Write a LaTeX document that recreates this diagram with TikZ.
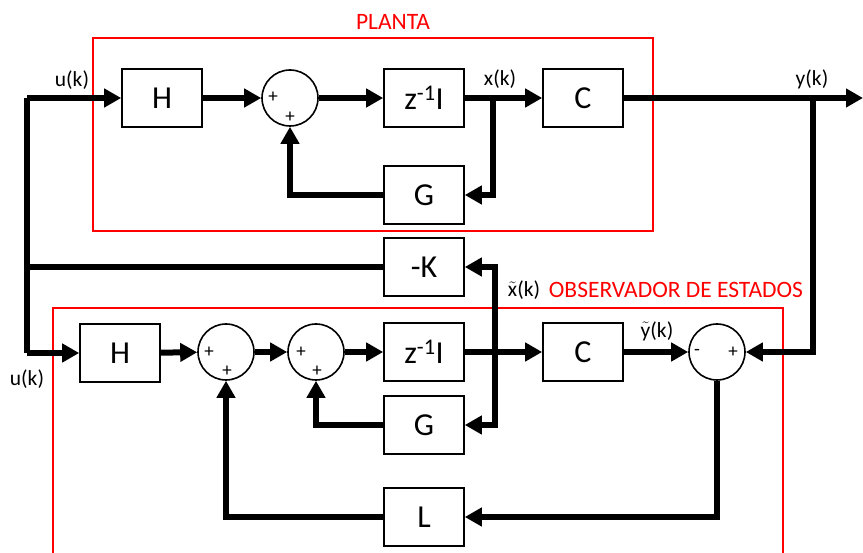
\documentclass[tikz,border=0pt]{standalone}
\usepackage{fontspec}
\setmainfont{Carlito}
\usetikzlibrary{arrows.meta}
\tikzset{
  blk/.style={draw,line width=1.6pt,minimum width=80pt,minimum height=58pt,inner sep=0pt,font=\fontsize{32}{36}\selectfont},
  sumc/.style={draw,circle,line width=1.6pt,minimum size=56pt,inner sep=0pt},
  sig/.style={line width=6pt},
  arr/.style={sig,-{Triangle[length=17pt,width=18pt]}},
  lbl/.style={font=\fontsize{21.5}{24}\selectfont,inner sep=1pt},
  rlbl/.style={red,font=\fontsize{23.5}{26}\selectfont,inner sep=1pt},
  sgn/.style={font=\fontsize{19}{20}\selectfont,inner sep=0pt},
  frame/.style={red,line width=1.5pt}
}
\begin{document}
\begin{tikzpicture}[x=1pt,y=-1pt]
\useasboundingbox (0,0) rectangle (863,553);
\draw[frame] (93,38) rectangle (653,231);
\draw[frame] (53,308) rectangle (783,575);
\node[rlbl] (planta) at (393,22) {PLANTA};
\node[rlbl] (obs) at (676,290) {OBSERVADOR DE ESTADOS};

\node[blk] (H1) at (162,98) {H};
\node[sumc] (S1) at (290,98) {};
\node[blk] (Z1) at (424,98) {z\textsuperscript{-1}I};
\node[blk] (C1) at (583,98) {C};
\node[blk] (G1) at (424,195) {G};
\node[blk] (K) at (424,267) {-K};
\node[blk] (H2) at (120,353) {H};
\node[sumc] (S2) at (226,352) {};
\node[sumc] (S3) at (316,352) {};
\node[blk] (Z2) at (424,352) {z\textsuperscript{-1}I};
\node[blk] (C2) at (583,352) {C};
\node[sumc] (S4) at (717,352) {};
\node[blk] (G2) at (424,425) {G};
\node[blk] (L) at (424,517) {L};

\node[sgn] (p1) at (273,97) {+};
\node[sgn] (p2) at (290,117) {+};
\node[sgn] (p3) at (209,352) {+};
\node[sgn] (p4) at (227,371) {+};
\node[sgn] (p5) at (301,352) {+};
\node[sgn] (p6) at (317,371) {+};
\node[sgn] (m1) at (697,352) {-};
\node[sgn] (p7) at (733,352) {+};

\coordinate (ut) at (27,98);
\coordinate (ub) at (27,353);
\coordinate (xk) at (493,98);
\coordinate (yk) at (813,98);
\coordinate (yout) at (863,98);
\coordinate (xt) at (495,352);

\draw[sig] (ut) -- (ub);
\draw[sig] (K.west) -- (K.west -| ut);
\draw[arr] (ut) -- (H1);
\draw[arr] (ub) -- (H2);
\draw[arr] (H1) -- (S1);
\draw[arr] (S1) -- (Z1);
\draw[arr] (Z1) -- (C1);
\draw[arr] (xk) |- (G1.east);
\draw[arr] (G1.west) -| (S1.south);
\draw[arr] (C1) -- (yout);
\draw[arr] (yk) |- (S4.east);

\draw[arr] (H2) -- (S2);
\draw[arr] (S2) -- (S3);
\draw[arr] (S3) -- (Z2);
\draw[arr] (Z2) -- (C2);
\draw[arr] (C2) -- (S4);
\draw[arr] (xt) |- (K.east);
\draw[arr] (xt) |- (G2.east);
\draw[arr] (G2.west) -| (S3.south);
\draw[arr] (S4.south) |- (L.east);
\draw[arr] (L.west) -| (S2.south);

\node[lbl] (uk1) at (72,80) {u(k)};
\node[lbl] (uk2) at (27,379) {u(k)};
\node[lbl] (xlab) at (500,79) {x(k)};
\node[lbl] (ylab) at (812,79) {y(k)};
\node[lbl] (xtl) at (524,290) {$\tilde{\mathrm{x}}$(k)};
\node[lbl] (ytl) at (657,331) {$\tilde{\mathrm{y}}$(k)};
\end{tikzpicture}
\end{document}
